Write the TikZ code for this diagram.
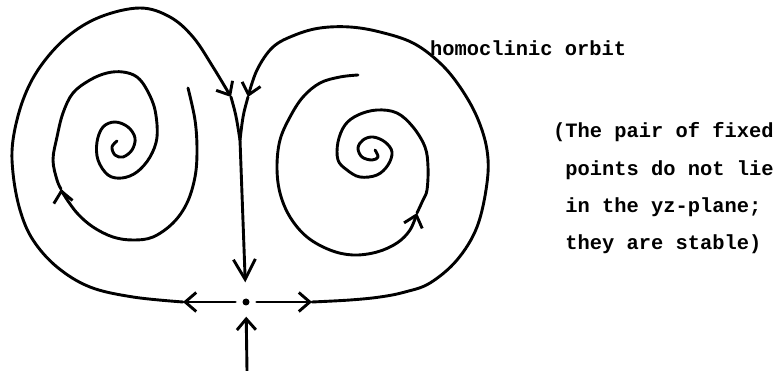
\documentclass[tikz,border=0pt]{standalone}
\usepackage{fontspec}
\setmonofont{Liberation Mono}
\usetikzlibrary{arrows.meta}

\tikzset{
  orbit/.style={line width=2.9pt, line cap=round, line join=round},
  flow/.style={orbit, -{Straight Barb[length=11pt,width=19pt]}},
  bigflow/.style={orbit, -{Straight Barb[length=20pt,width=22pt]}},
  remark/.style={font=\ttfamily\bfseries\fontsize{20.4}{37.3}\selectfont, inner sep=0pt}
}

\begin{document}
\begin{tikzpicture}[x=1pt,y=-1pt]
    \useasboundingbox (0,0) rectangle (779,371);
    % saddle point and its branches
    \node[circle, fill, inner sep=0pt, minimum size=7pt] (saddle) at (246,302) {};
    \coordinate (cusp) at (240,140);
    \coordinate (leftend) at (183,302);
    \coordinate (rightend) at (312,302);
    \coordinate (leftarr) at (231,97);
    \coordinate (rightarr) at (248,97);
    \coordinate (bottom) at (247,371);
    \draw[flow, shorten <=7pt] (saddle) -- (leftend);
    \draw[flow, shorten <=7pt] (saddle) -- (rightend);
    \draw[bigflow, shorten >=16pt] (cusp) -- (saddle);
    \draw[flow, shorten >=11pt] (bottom) -- (saddle);
    % homoclinic orbit, left loop
    \draw[flow] plot[smooth, tension=0.6] coordinates {(leftend) (133,297) (90,287) (57,267) (33,240) (20,210) (13,173) (13,140) (23,100) (40,67) (67,37) (100,17) (140,8) (170,17) (193,37) (213,67) (leftarr)};
    \draw[orbit] (leftarr) .. controls (236,115) .. (cusp);
    % homoclinic orbit, right loop
    \draw[flow] plot[smooth, tension=0.6] coordinates {(rightend) (350,300) (380,297) (405,292) (430,283) (457,260) (477,227) (487,183) (487,150) (477,117) (460,87) (440,63) (413,43) (380,32) (350,27) (320,28) (295,35) (273,47) (257,70) (rightarr)};
    \draw[orbit] (rightarr) .. controls (243,115) .. (cusp);
    % left stable spiral
    \draw[flow] plot[smooth, tension=0.6] coordinates {(188,88) (195,120) (197,150) (195,177) (187,203) (173,223) (153,237) (133,240) (113,237) (93,227) (77,213) (64,195) (61,189)};
    \draw[orbit] plot[smooth, tension=0.6] coordinates {(61,189) (57,180) (53,160) (57,137) (63,113) (73,93) (90,80) (107,73) (123,72) (137,77) (147,90) (155,110) (157,137) (150,157) (137,172) (122,178) (108,175) (98,160) (97,142) (103,127) (115,122) (128,127) (135,138) (132,150) (123,157) (115,155) (112,147) (117,141)};
    % right stable spiral
    \draw[flow] plot[smooth, tension=0.6] coordinates {(358,75) (340,77) (320,83) (303,97) (290,117) (280,140) (277,167) (280,193) (290,217) (307,237) (330,250) (353,255) (377,252) (397,243) (410,230) (417,213)};
    \draw[orbit] plot[smooth, tension=0.6] coordinates {(417,213) (423,200) (427,190) (428,167) (425,147) (413,127) (397,113) (377,110) (358,115) (345,125) (338,142) (338,160) (347,170) (360,177) (377,175) (388,165) (392,152) (385,142) (373,137) (363,140) (358,148) (362,157) (372,160) (378,157) (375,150)};
    % labels
    \node[remark, anchor=base west] (homlabel) at (430,56) {homoclinic orbit};
    \foreach \txt [count=\i] in {{(The pair of fixed}, {\hphantom{(}points do not lie}, {\hphantom{(}in the yz-plane;}, {\hphantom{(}they are stable)}}
      \node[remark, anchor=base west] (pair\i) at (553,{138+37.3*(\i-1)}) {\txt};
\end{tikzpicture}
\end{document}
